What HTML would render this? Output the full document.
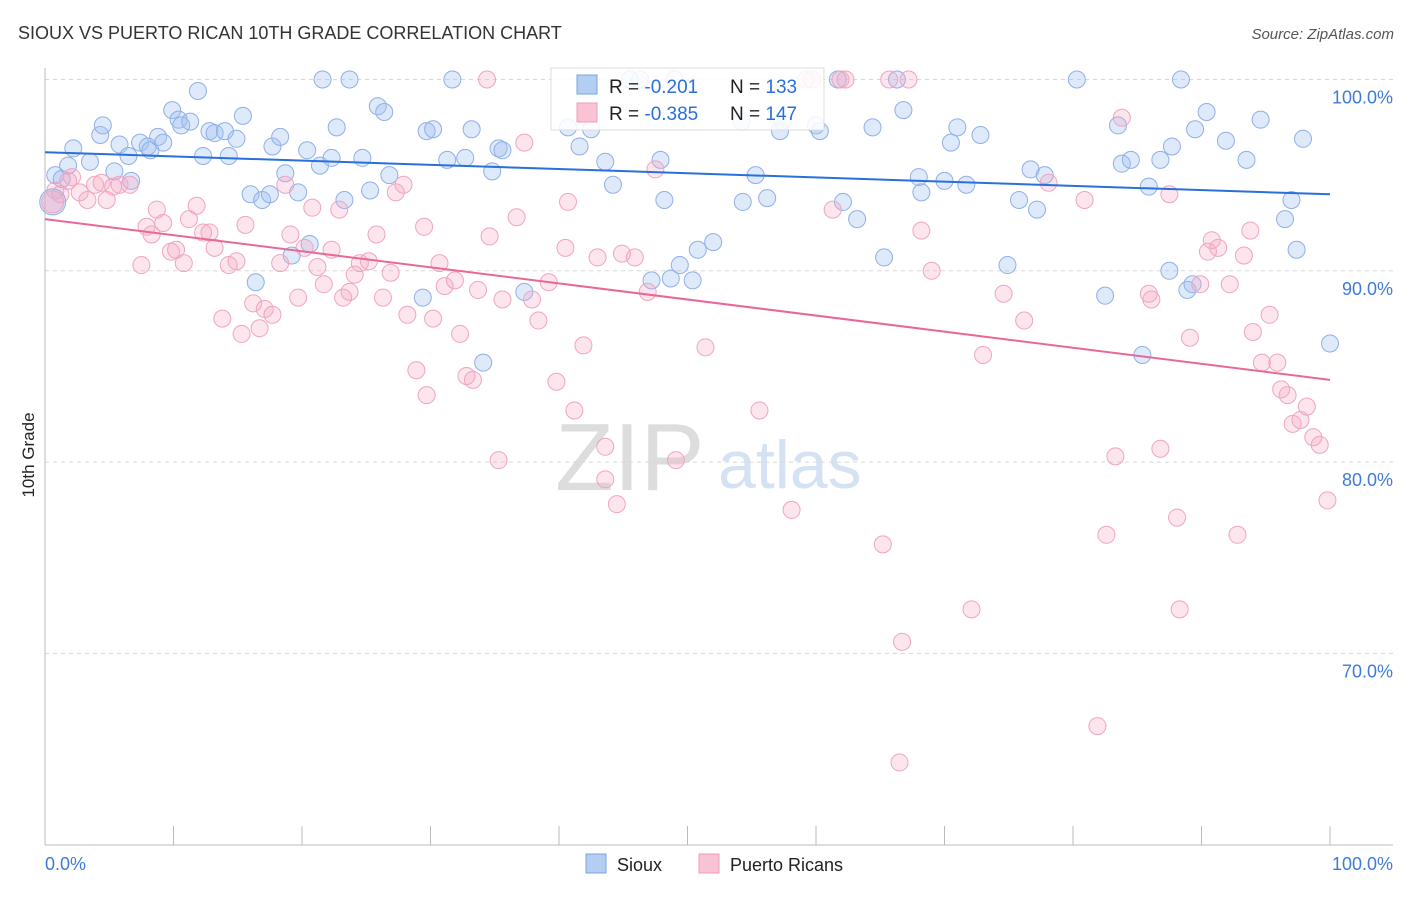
<!DOCTYPE html>
<html><head><meta charset="utf-8"><style>
body{margin:0;background:#fff;font-family:"Liberation Sans",sans-serif;}
svg text{font-family:"Liberation Sans",sans-serif;}
</style></head><body>
<svg id="chart" width="1406" height="892">
<text x="18" y="39" font-size="18" fill="#333">SIOUX VS PUERTO RICAN 10TH GRADE CORRELATION CHART</text>
<text x="1394" y="39" font-size="15" fill="#555" text-anchor="end" font-style="italic">Source: ZipAtlas.com</text>
<text x="555" y="490" font-size="96" fill="#ddd" font-family="Liberation Serif">ZIP</text>
<text x="718" y="488" font-size="68" fill="#d4e2f4">atlas</text>
<g id="grid"></g>
<g id="axes"></g>
<g id="pts"></g>
<g id="lines"></g>
<text x="34" y="455" font-size="17" fill="#222" text-anchor="middle" transform="rotate(-90 34 455)">10th Grade</text>
<g>
<rect x="551" y="68" width="273" height="62" fill="#fff" fill-opacity="0.85" stroke="#ddd"/>
<rect x="577" y="75" width="20" height="19" fill="#b4cdf3" stroke="#7ba3e0"/>
<rect x="577" y="103" width="20" height="19" fill="#f9c3d3" stroke="#ee9cb8"/>
<text x="609" y="93" font-size="19" fill="#222">R = <tspan fill="#2a6fdb">-0.201</tspan><tspan x="730">N = </tspan><tspan fill="#2a6fdb">133</tspan></text>
<text x="609" y="120" font-size="19" fill="#222">R = <tspan fill="#2a6fdb">-0.385</tspan><tspan x="730">N = </tspan><tspan fill="#2a6fdb">147</tspan></text>
</g>
<g>
<rect x="586" y="854" width="20" height="19" fill="#b4cdf3" stroke="#7ba3e0"/>
<text x="617" y="871" font-size="18" fill="#222">Sioux</text>
<rect x="699" y="854" width="20" height="19" fill="#f9c3d3" stroke="#ee9cb8"/>
<text x="730" y="871" font-size="18" fill="#222">Puerto Ricans</text>
</g>
</svg>
<script>
const yTicks=[100,90,80,70];
const xTickLabels=["0.0%","100.0%"];
const blueLine=[96.2,94.0];
const pinkLine=[92.7,84.3];
const blueX=[0.8,1.3,1.8,2.2,3.5,4.3,4.5,5.4,5.8,6.5,6.7,7.4,8.0,8.2,8.8,9.2,9.9,10.4,10.6,11.3,11.9,12.3,12.8,13.2,14.0,14.3,14.9,15.4,16.0,16.4,16.9,17.5,17.7,18.3,18.7,19.2,19.7,20.4,20.6,21.4,21.6,22.3,22.7,23.3,23.7,24.7,25.3,25.9,26.4,26.8,29.4,29.7,30.2,31.3,31.7,32.7,33.2,34.1,34.8,35.3,35.6,37.3,40.7,41.6,42.5,43.6,44.2,45.5,46.3,47.2,47.9,48.2,48.7,49.0,49.4,50.4,50.8,52.0,54.2,54.3,55.3,56.2,57.2,57.4,60.0,60.3,61.7,62.1,63.2,64.4,65.3,66.3,66.8,68.0,68.2,70.0,70.5,71.0,71.7,72.8,74.9,75.8,76.7,77.2,77.8,80.3,82.5,83.5,83.8,84.5,85.4,85.9,86.8,87.5,87.7,88.4,88.9,89.3,89.5,90.4,91.9,93.5,94.6,96.5,97.0,97.4,97.9,100];
const blueY=[95.0,94.8,95.5,96.4,95.7,97.1,97.6,95.2,96.6,96.0,94.7,96.7,96.5,96.3,97.0,96.7,98.4,97.9,97.6,97.8,99.4,96.0,97.3,97.2,97.3,96.0,96.9,98.1,94.0,89.4,93.7,94.0,96.5,97.0,95.1,90.8,94.1,96.3,91.4,95.5,100,95.9,97.5,93.7,100,95.9,94.2,98.6,98.3,95.0,88.6,97.3,97.4,95.8,100,95.9,97.4,85.2,95.2,96.4,96.3,88.9,97.5,96.5,97.4,95.7,94.5,100,100,89.5,95.8,93.7,89.6,100,90.3,89.5,91.1,91.5,97.8,93.6,95.0,93.8,97.3,97.8,97.6,97.3,100,93.6,92.7,97.5,90.7,100,98.4,94.9,94.1,94.7,96.7,97.5,94.5,97.1,90.3,93.7,95.3,93.2,95.0,100,88.7,97.6,95.6,95.8,85.6,94.4,95.8,90.0,96.5,100,89.0,89.3,97.4,98.3,96.8,95.8,97.9,92.7,93.7,91.1,96.9,86.2];
const pinkX=[0.8,1.2,1.8,2.1,2.7,3.3,3.9,4.4,4.8,5.3,5.8,6.6,7.5,7.9,8.3,8.7,9.2,9.8,10.2,10.8,11.2,11.8,12.3,12.8,13.2,13.8,14.3,14.9,15.3,15.6,16.2,16.7,17.1,17.7,18.3,18.7,19.1,19.7,20.2,20.8,21.2,21.7,22.3,22.9,23.2,23.7,24.1,24.5,25.2,25.8,26.3,26.9,27.3,27.9,28.2,28.9,29.5,29.7,30.2,30.7,31.1,31.9,32.3,32.8,33.3,33.7,34.4,34.6,35.3,35.6,36.7,37.3,37.9,38.4,39.2,39.8,40.5,40.7,41.2,41.9,43.0,43.6,43.6,44.5,44.9,45.9,46.9,47.5,49.1,51.4,55.6,58.1,59.2,59.7,61.3,61.9,62.3,65.2,65.7,66.7,67.2,68.2,69.0,73.0,74.6,76.2,78.1,80.9,81.9,82.6,83.3,83.8,85.9,86.1,86.8,87.5,88.1,88.3,89.1,89.9,90.5,90.8,91.3,92.2,92.8,93.3,93.8,94.0,94.7,95.3,95.9,96.2,96.7,97.1,97.7,98.2,98.7,99.2,99.8,66.5,72.1];
const pinkY=[94.2,94.0,94.7,94.9,94.1,93.7,94.5,94.6,93.7,94.4,94.5,94.5,90.3,92.3,91.9,93.2,92.5,91.0,91.1,90.4,92.7,93.4,92.0,92.0,91.2,87.5,90.3,90.5,86.7,92.4,88.3,87.0,88.0,87.7,90.4,94.5,91.9,88.6,91.2,93.3,90.2,89.3,91.1,93.2,88.6,88.9,89.8,90.4,90.5,91.9,88.6,89.9,94.1,94.5,87.7,84.8,92.3,83.5,87.5,90.4,89.2,89.5,86.7,84.5,84.3,89.0,100,91.8,80.1,88.5,92.8,96.7,88.5,87.4,89.4,84.2,91.2,93.6,82.7,86.1,90.7,79.1,80.8,77.8,90.9,90.7,88.9,95.3,80.1,86.0,82.7,77.5,100,100,93.2,100,100,75.7,100,70.6,100,92.1,90.0,85.6,88.8,87.4,94.6,93.7,66.2,76.2,80.3,98.0,88.8,88.5,80.7,94.0,77.1,72.3,86.5,89.3,91.0,91.6,91.2,89.3,76.2,90.8,92.1,86.8,85.2,87.7,85.2,83.8,83.5,82.0,82.2,82.9,81.3,80.9,78.0,64.3,72.3];
const NS="http://www.w3.org/2000/svg";
const X0=45,X1=1330,YT=79.5,PX=19.13;
const sx=v=>X0+(X1-X0)*v/100;
const sy=v=>YT+(100-v)*PX;
function mk(t,a,p){const e=document.createElementNS(NS,t);for(const k in a)e.setAttribute(k,a[k]);(p||document.getElementById('chart')).appendChild(e);return e;}
const grid=document.getElementById('grid'),axes=document.getElementById('axes'),pts=document.getElementById('pts'),lines=document.getElementById('lines');
yTicks.forEach(t=>{
 const g=mk('line',{x1:45,x2:1393,y1:sy(t),y2:sy(t),stroke:'#d8d8d8','stroke-dasharray':'4,4'},grid);
 
 
 const l=mk('text',{x:1393,y:sy(t)+24,'font-size':18,fill:'#3f7bd6','text-anchor':'end'},axes);
 l.textContent=t.toFixed(1)+'%';
 
 
});
const a1=mk('line',{x1:45,x2:45,y1:68,y2:845,stroke:'#bbb'},axes);


const a2=mk('line',{x1:45,x2:1393,y1:845,y2:845,stroke:'#bbb'},axes);


for(let i=0;i<=10;i++){
 const t=mk('line',{x1:sx(i*10),x2:sx(i*10),y1:826,y2:845,stroke:'#bbb'},axes);
 
 
}
xTickLabels.forEach((s,i)=>{
 const t=mk('text',{x:i?1393:45,y:870,'font-size':18,fill:'#3f7bd6','text-anchor':i?'end':'start'},axes);
 t.textContent=s;
 
 
});
function dots(xs,ys,fill,stroke,name){
 xs.forEach((x,i)=>{
  const c=mk('circle',{cx:sx(x),cy:sy(ys[i]),r:8.5,fill:fill,stroke:stroke,'stroke-width':1},pts);
  
  
 });
}
dots(blueX,blueY,'rgba(160,192,240,0.35)','#8fb0e6','sioux-point');
dots(pinkX,pinkY,'rgba(246,170,196,0.3)','#efa5bf','puerto-rican-point');
const big1=mk('circle',{cx:sx(0.6),cy:sy(93.6),r:13,fill:'rgba(160,192,240,0.4)',stroke:'#8fb0e6'},pts);


const big2=mk('circle',{cx:sx(0.6),cy:sy(93.6),r:11,fill:'rgba(246,170,196,0.45)',stroke:'#efa5bf'},pts);


const bl=mk('line',{x1:sx(0),x2:sx(100),y1:sy(blueLine[0]),y2:sy(blueLine[1]),stroke:'#2a6fdb','stroke-width':2},lines);


const pl=mk('line',{x1:sx(0),x2:sx(100),y1:sy(pinkLine[0]),y2:sy(pinkLine[1]),stroke:'#e8689a','stroke-width':2},lines);


</script>
</body></html>
